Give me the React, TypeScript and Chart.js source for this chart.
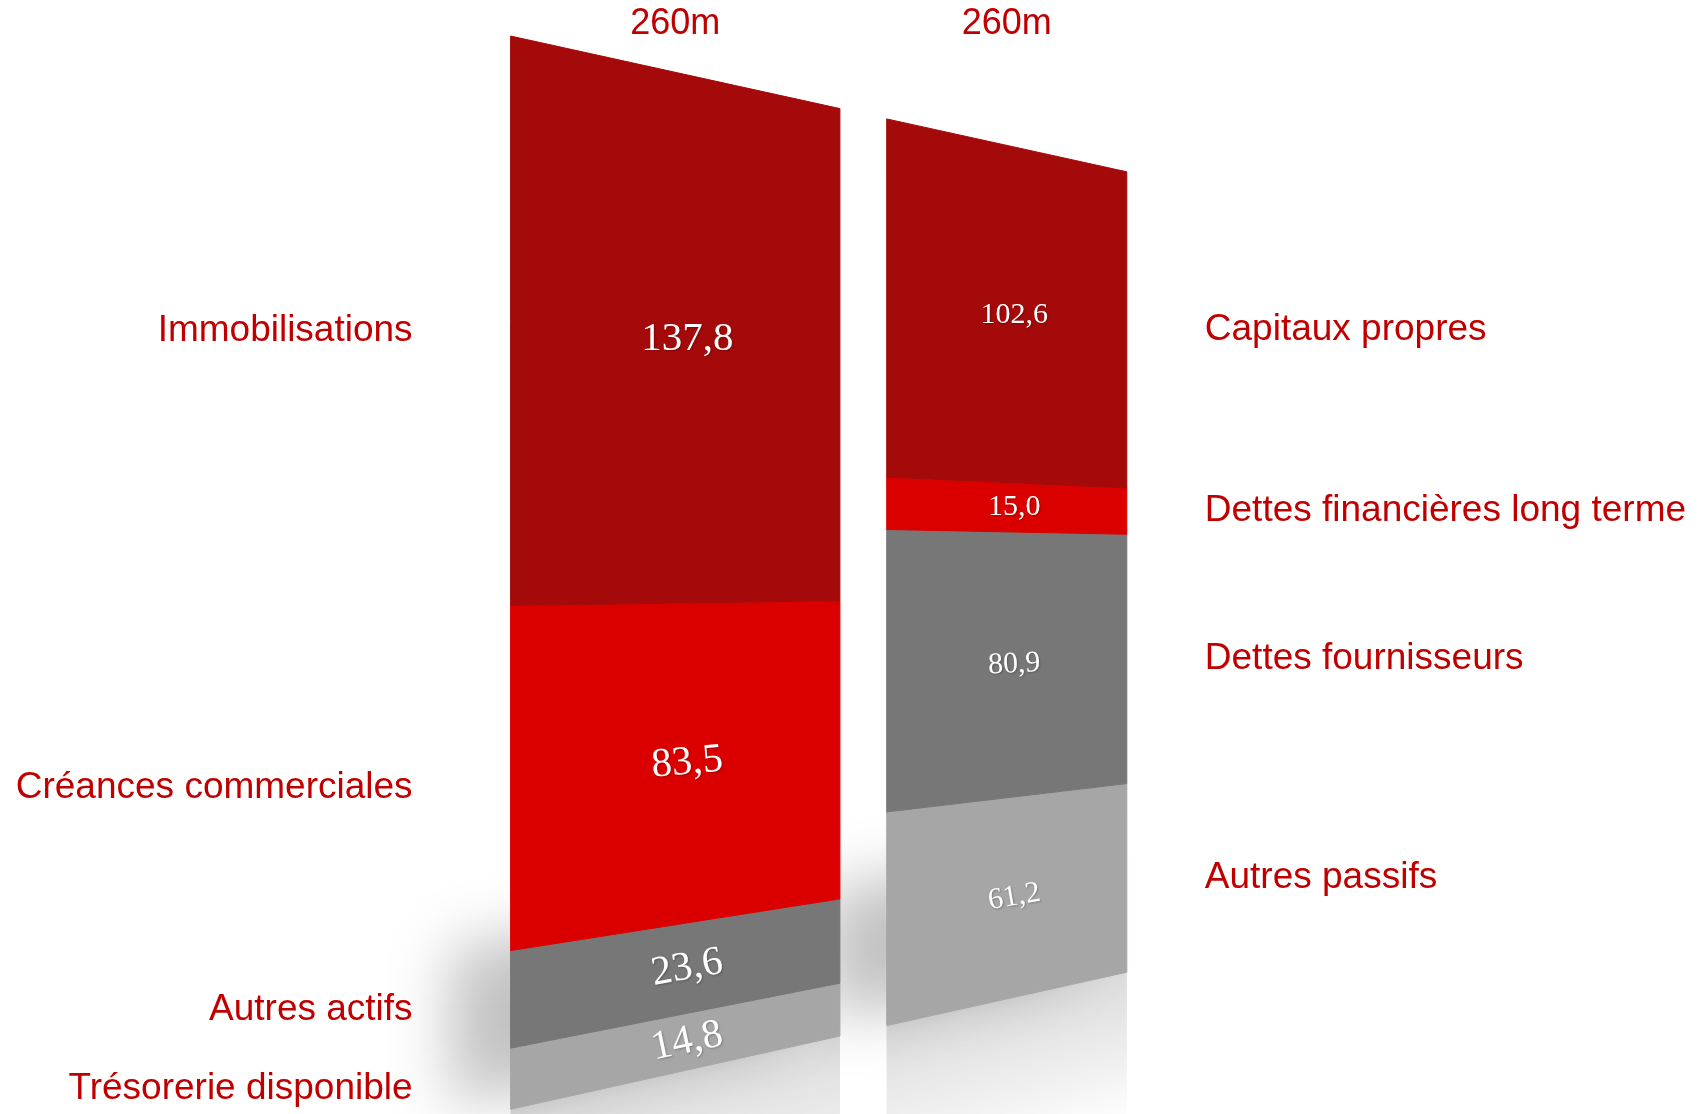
import React, { useEffect, useRef } from 'react';
import { Chart, registerables } from 'chart.js';

Chart.register(...registerables);

// ---- data ----
const columns = ['Actif', 'Passif'];
const columnTotals = ['260m', '260m'];
const valueMax = 260;
// stacked levels, bottom to top: [Actif, Passif]
const level1 = [14.8, 61.2];
const level2 = [23.6, 80.9];
const level3 = [83.5, 15.0];
const level4 = [137.8, 102.6];
const leftNames = ['Trésorerie disponible', 'Autres actifs', 'Créances commerciales', 'Immobilisations'];
const rightNames = ['Autres passifs', 'Dettes fournisseurs', 'Dettes financières long terme', 'Capitaux propres'];

// ---- style ----
const levelColors = ['#a6a6a6', '#777777', '#db0000', '#a40a0a'];
const labelRed = '#c00000';
const valueFontSizes = [41, 30];
// perspective view of the plot plane: TL, TR, BR, BL of the bar span (0..valueMax)
const VIEW: number[][] = [
  [510.6, 34.8],
  [1126.8, 170.9],
  [1126.8, 972.2],
  [510.6, 1109.3],
];
const W = 1707;
const H = 1114;

function quadMap(q: number[][]) {
  const [[x0, y0], [x1, y1], [x2, y2], [x3, y3]] = q;
  const dx1 = x1 - x2, dx2 = x3 - x2, dx3 = x0 - x1 + x2 - x3;
  const dy1 = y1 - y2, dy2 = y3 - y2, dy3 = y0 - y1 + y2 - y3;
  const den = dx1 * dy2 - dx2 * dy1;
  const g = (dx3 * dy2 - dx2 * dy3) / den;
  const h = (dx1 * dy3 - dx3 * dy1) / den;
  const a = x1 - x0 + g * x1, b = x3 - x0 + h * x3, c = x0;
  const d = y1 - y0 + g * y1, e = y3 - y0 + h * y3, f = y0;
  return (u: number, v: number) => {
    const w = g * u + h * v + 1;
    return { x: (a * u + b * v + c) / w, y: (d * u + e * v + f) / w };
  };
}

const fmt = (v: number) => v.toFixed(1).replace('.', ',');

const perspectivePlugin = {
  id: 'perspective',
  beforeDatasetsDraw(chart: any) {
    const ctx: CanvasRenderingContext2D = chart.ctx;
    const ys = chart.scales.y;
    const metas = chart.data.datasets.map((_: any, i: number) => chart.getDatasetMeta(i));
    const base = metas[0].data;
    const firstEl = base[0];
    const lastEl = base[base.length - 1];
    const fx0 = firstEl.x - firstEl.width / 2;
    const fx1 = lastEl.x + lastEl.width / 2;
    const fyT = ys.getPixelForValue(valueMax);
    const fyB = ys.getPixelForValue(0);
    const map = quadMap(VIEW);
    const P = (X: number, Y: number) => map((X - fx0) / (fx1 - fx0), (Y - fyT) / (fyB - fyT));

    const poly = (pts: { x: number; y: number }[]) => {
      ctx.beginPath();
      pts.forEach((p, i) => (i ? ctx.lineTo(p.x, p.y) : ctx.moveTo(p.x, p.y)));
      ctx.closePath();
    };
    const quad = (xl: number, xr: number, yt: number, yb: number) =>
      poly([P(xl, yt), P(xr, yt), P(xr, yb), P(xl, yb)]);

    ctx.save();
    ctx.fillStyle = '#ffffff';
    ctx.fillRect(0, 0, W, H);

    // reflections under each bar (mirror of the lowest segment, fading into white)
    base.forEach((el: any) => {
      const xl = el.x - el.width / 2;
      const xr = el.x + el.width / 2;
      const steps = 50;
      const depth = 48;
      for (let s = 0; s < steps; s++) {
        const v0 = -(depth * s) / steps;
        const v1 = -(depth * (s + 1.6)) / steps;
        const alpha = 0.4 * (1 - s / steps);
        const c = Math.round(255 - (255 - 166) * alpha);
        quad(xl, xr, ys.getPixelForValue(v0), ys.getPixelForValue(v1));
        ctx.fillStyle = `rgb(${c},${c},${c})`;
        ctx.fill();
      }
    });

    // soft shadows behind the lower part of each bar
    base.forEach((el: any) => {
      const xl = el.x - el.width / 2;
      const xr = el.x + el.width / 2;
      ctx.save();
      ctx.filter = 'blur(30px)';
      ctx.translate(-60, -4);
      quad(xl, xr, ys.getPixelForValue(38), ys.getPixelForValue(0));
      ctx.fillStyle = 'rgba(0,0,0,0.24)';
      ctx.fill();
      ctx.restore();
    });

    // bars
    metas.forEach((meta: any, di: number) => {
      const color = levelColors[di];
      meta.data.forEach((el: any) => {
        const xl = el.x - el.width / 2;
        const xr = el.x + el.width / 2;
        quad(xl, xr, el.y, el.base);
        ctx.fillStyle = color;
        ctx.strokeStyle = color;
        ctx.lineWidth = 1;
        ctx.fill();
        ctx.stroke();
      });
    });

    // value labels on the plane
    metas.forEach((meta: any, di: number) => {
      const values = chart.data.datasets[di].data;
      meta.data.forEach((el: any, ci: number) => {
        const ym = (el.y + el.base) / 2;
        const c = P(el.x, ym);
        const a = P(el.x - 10, ym);
        const b = P(el.x + 10, ym);
        const ang = Math.min(0, Math.atan2(b.y - a.y, b.x - a.x));
        ctx.save();
        ctx.translate(c.x, c.y);
        ctx.rotate(ang);
        ctx.fillStyle = '#ffffff';
        ctx.shadowColor = 'rgba(0,0,0,0.25)';
        ctx.shadowBlur = 2;
        ctx.shadowOffsetX = 1;
        ctx.shadowOffsetY = 1;
        ctx.font = `${valueFontSizes[ci]}px "Liberation Serif", "DejaVu Serif", serif`;
        ctx.textAlign = 'center';
        ctx.textBaseline = 'middle';
        ctx.fillText(fmt(values[ci]), 0, 0);
        ctx.restore();
      });
    });

    // column totals
    ctx.fillStyle = labelRed;
    ctx.font = '36px "Liberation Sans", Arial, sans-serif';
    ctx.textAlign = 'center';
    ctx.textBaseline = 'middle';
    base.forEach((el: any, ci: number) => {
      const l = P(el.x - el.width / 2, fyT);
      const r = P(el.x + el.width / 2, fyT);
      ctx.fillText(columnTotals[ci], (l.x + r.x) / 2, 24);
    });

    // category names beside the bars
    ctx.font = '37px "Liberation Sans", Arial, sans-serif';
    metas.forEach((meta: any, di: number) => {
      const eL = meta.data[0];
      const eR = meta.data[meta.data.length - 1];
      const pl = P(eL.x - eL.width / 2, (eL.y + eL.base) / 2);
      const pr = P(eR.x + eR.width / 2, (eR.y + eR.base) / 2);
      ctx.textAlign = 'right';
      ctx.fillText(leftNames[di], pl.x - 98, pl.y + 10);
      ctx.textAlign = 'left';
      ctx.fillText(rightNames[di], pr.x + 78, pr.y);
    });

    ctx.restore();
    return false;
  },
};

export default function App() {
  const ref = useRef<HTMLCanvasElement | null>(null);
  useEffect(() => {
    if (!ref.current) return;
    const levels = [level1, level2, level3, level4];
    const chart = new Chart(ref.current, {
      type: 'bar',
      data: {
        labels: columns,
        datasets: levels.map((d, i) => ({
          label: leftNames[i] + ' / ' + rightNames[i],
          data: d,
          backgroundColor: levelColors[i],
          categoryPercentage: 1,
          barPercentage: 0.856,
        })),
      },
      options: {
        animation: false,
        responsive: false,
        devicePixelRatio: 1,
        events: [],
        layout: { padding: 0 },
        plugins: { legend: { display: false }, tooltip: { enabled: false } },
        scales: {
          x: { display: false, stacked: true, offset: true },
          y: { display: false, stacked: true, min: 0, max: valueMax },
        },
      },
      plugins: [perspectivePlugin as any],
    });
    return () => chart.destroy();
  }, []);
  return (
    <div style={{ position: 'absolute', left: 0, top: 0, width: W, height: H, background: '#fff' }}>
      <canvas ref={ref} width={W} height={H} style={{ display: 'block' }} />
    </div>
  );
}
